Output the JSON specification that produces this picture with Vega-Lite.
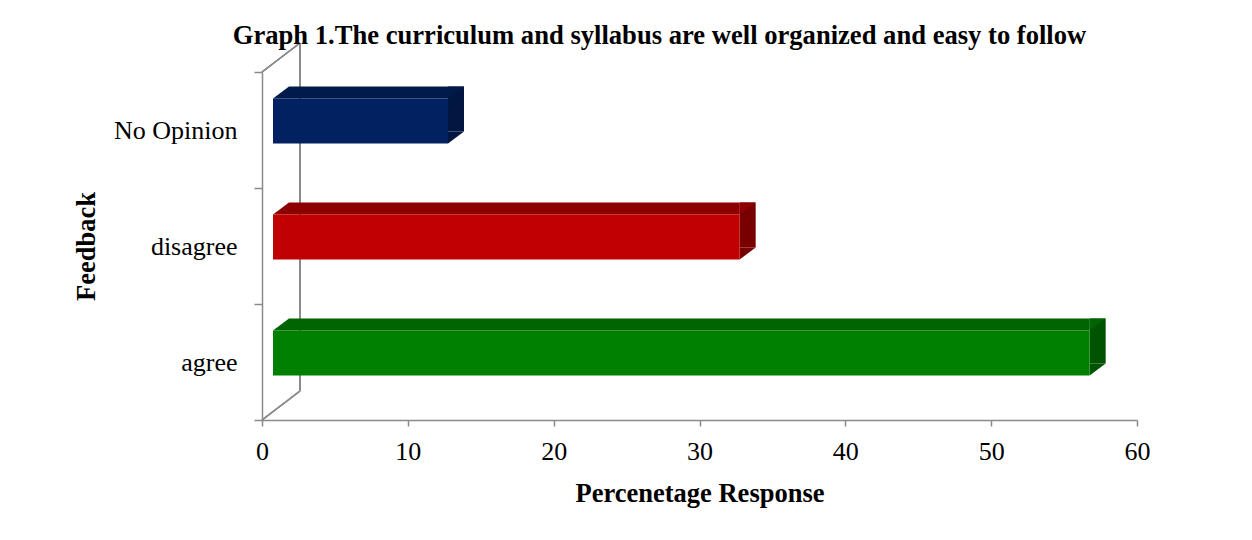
{
  "$schema": "https://vega.github.io/schema/vega-lite/v6.json",
  "width": 875,
  "height": 348,
  "autosize": "none",
  "padding": {"left": 262, "top": 72, "right": 115, "bottom": 120},
  "background": "white",
  "data": {"values": [
    {"Feedback": "No Opinion", "Percent": 12},
    {"Feedback": "disagree", "Percent": 32},
    {"Feedback": "agree", "Percent": 56}
  ]},
  "title": {
    "text": "Graph 1.The curriculum and syllabus are well organized and easy to follow",
    "font": "Liberation Serif", "fontSize": 26.6, "fontWeight": "bold", "color": "black",
    "anchor": "middle", "dx": -40, "offset": -7
  },
  "layer": [
    {
      "mark": {"type": "rule", "color": "#8a8a8a", "strokeWidth": 1.5, "xOffset": 38, "x2Offset": 38, "yOffset": -29, "y2Offset": -29},
      "encoding": {
        "x": {"datum": 0, "type": "quantitative", "scale": {"domain": [0, 60], "nice": false}, "title": "Percenetage Response"},
        "x2": {"datum": 0},
        "y": {"value": 0},
        "y2": {"value": "height"}
      }
    },
    {
      "mark": {"type": "rule", "color": "#8a8a8a", "strokeWidth": 1.5, "x2Offset": 38, "y2Offset": -29},
      "encoding": {
        "x": {"datum": 0, "type": "quantitative", "title": "Percenetage Response"},
        "x2": {"datum": 0},
        "y": {"value": 0},
        "y2": {"value": 0}
      }
    },
    {
      "mark": {"type": "rule", "color": "#8a8a8a", "strokeWidth": 1.5, "x2Offset": 38, "y2Offset": -29},
      "encoding": {
        "x": {"datum": 0, "type": "quantitative", "title": "Percenetage Response"},
        "x2": {"datum": 0},
        "y": {"value": "height"},
        "y2": {"value": "height"}
      }
    },
    {
      "mark": {"type": "bar", "height": 45, "xOffset": 11, "x2Offset": 27, "yOffset": -21, "y2Offset": -21},
      "encoding": {
        "y": {"field": "Feedback", "type": "nominal", "scale": {"domain": ["No Opinion", "disagree", "agree"], "paddingInner": 0, "paddingOuter": 0}, "title": "Feedback"},
        "x": {"field": "Percent", "type": "quantitative", "title": "Percenetage Response"},
        "x2": {"field": "Percent"},
        "color": {"field": "Feedback", "type": "nominal", "legend": null, "scale": {"domain": ["No Opinion", "disagree", "agree"], "range": ["#011640", "#780000", "#005300"]}}
      }
    },
    {
      "mark": {"type": "bar", "height": 12, "xOffset": 11, "x2Offset": 27, "yOffset": -37.5, "y2Offset": -37.5},
      "encoding": {
        "y": {"field": "Feedback", "type": "nominal", "title": "Feedback"},
        "x": {"field": "Percent", "type": "quantitative", "title": "Percenetage Response"},
        "x2": {"datum": 0},
        "color": {"field": "Feedback", "type": "nominal", "legend": null, "scale": {"domain": ["No Opinion", "disagree", "agree"], "range": ["#011a4c", "#8e0000", "#006400"]}}
      }
    },
    {
      "mark": {"type": "point", "shape": "M-1,0.75L1,-0.75L1,0.75Z", "size": 256, "filled": true, "opacity": 1, "strokeWidth": 0, "xOffset": 19, "yOffset": -37.5},
      "encoding": {
        "y": {"field": "Feedback", "type": "nominal", "title": "Feedback"},
        "x": {"datum": 0, "type": "quantitative", "title": "Percenetage Response"},
        "color": {"field": "Feedback", "type": "nominal", "legend": null, "scale": {"domain": ["No Opinion", "disagree", "agree"], "range": ["#011a4c", "#8e0000", "#006400"]}}
      }
    },
    {
      "mark": {"type": "point", "shape": "M-1,-0.75L1,-0.75L-1,0.75Z", "size": 256, "filled": true, "opacity": 1, "strokeWidth": 0, "xOffset": 19, "yOffset": -37.5},
      "encoding": {
        "y": {"field": "Feedback", "type": "nominal", "title": "Feedback"},
        "x": {"field": "Percent", "type": "quantitative", "title": "Percenetage Response"},
        "color": {"field": "Feedback", "type": "nominal", "legend": null, "scale": {"domain": ["No Opinion", "disagree", "agree"], "range": ["#011a4c", "#8e0000", "#006400"]}}
      }
    },
    {
      "mark": {"type": "point", "shape": "M-1,-0.75L1,-0.75L-1,0.75Z", "size": 256, "filled": true, "opacity": 1, "strokeWidth": 0, "xOffset": 19, "yOffset": 7.5},
      "encoding": {
        "y": {"field": "Feedback", "type": "nominal", "title": "Feedback"},
        "x": {"field": "Percent", "type": "quantitative", "title": "Percenetage Response"},
        "color": {"field": "Feedback", "type": "nominal", "legend": null, "scale": {"domain": ["No Opinion", "disagree", "agree"], "range": ["#011640", "#780000", "#005300"]}}
      }
    },
    {
      "mark": {"type": "bar", "height": 45, "xOffset": 11, "x2Offset": 11, "yOffset": -9, "y2Offset": -9},
      "encoding": {
        "y": {"field": "Feedback", "type": "nominal", "title": "Feedback"},
        "x": {"field": "Percent", "type": "quantitative", "title": "Percenetage Response", "axis": {"values": [0, 10, 20, 30, 40, 50, 60]}},
        "x2": {"datum": 0},
        "color": {"field": "Feedback", "type": "nominal", "legend": null, "scale": {"domain": ["No Opinion", "disagree", "agree"], "range": ["#022160", "#c00000", "#008000"]}}
      }
    }
  ],
  "resolve": {"scale": {"color": "independent"}},
  "config": {
    "view": {"stroke": null},
    "axis": {
      "domainColor": "#8a8a8a", "tickColor": "#8a8a8a", "domainWidth": 1.5, "tickWidth": 1.5,
      "labelFont": "Liberation Serif", "labelFontSize": 26, "labelColor": "black",
      "titleFont": "Liberation Serif", "titleFontSize": 26.5, "titleFontWeight": "bold", "titleColor": "black",
      "grid": false
    },
    "axisX": {"tickSize": 6, "labelPadding": 12, "titlePadding": 16, "labelFlush": false},
    "axisY": {"tickSize": 8, "labelPadding": 17, "tickBand": "extent", "titlePadding": 13}
  }
}
